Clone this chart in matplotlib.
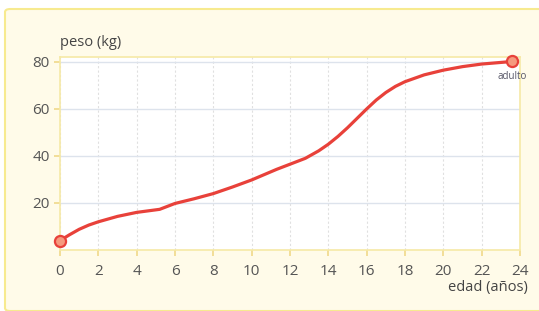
import matplotlib.pyplot as plt
from matplotlib.patches import FancyBboxPatch

# edad (años) y peso (kg)
edad = [0, 0.5, 1, 1.5, 2, 3, 4, 5.2, 6, 7, 8, 9, 10, 11.3, 12.8, 13.5, 14, 14.5, 15, 15.5, 16,
        16.5, 17, 17.5, 18, 19, 20, 21, 22, 23.6]
peso = [4, 6.5, 8.8, 10.6, 12, 14.3, 16, 17.3, 19.8, 21.8, 24, 26.8, 29.8, 34.3, 39, 42.2, 45,
        48.3, 52, 56, 60, 63.8, 67, 69.6, 71.6, 74.5, 76.5, 78, 79.1, 80.2]

x_ticks = list(range(0, 25, 2))
y_ticks = [20, 40, 60, 80]

plt.rcParams['font.family'] = ['Open Sans', 'DejaVu Sans']

fig = plt.figure(figsize=(5.39, 3.11), dpi=100)
fig.patch.set_facecolor('white')

# panel crema de fondo
panel = FancyBboxPatch((5 / 539, 0.0), 1.1, 1 - 9 / 311, transform=fig.transFigure,
                       boxstyle='round,pad=0,rounding_size=0.01',
                       facecolor='#fffbe9', edgecolor='#f7ea8f', linewidth=1.5, zorder=0)
fig.patches.append(panel)

ax = fig.add_axes([60 / 539, 1 - 250 / 311, 460 / 539, 193 / 311])
ax.set_zorder(2)
ax.set_facecolor('white')
ax.set_xlim(0, 24)
ax.set_ylim(0, 82.1)

for s in ax.spines.values():
    s.set_color('#f6e9a6')
    s.set_linewidth(1.2)

ax.set_xticks(x_ticks)
ax.set_yticks(y_ticks)
ax.tick_params(colors='#f0d98a', labelcolor='#555555', labelsize=11, length=4, width=1.2)
ax.tick_params(axis='x', pad=6)

ax.grid(axis='x', color='#e0e0e0', linestyle=(0, (2, 2)), linewidth=0.8)
ax.grid(axis='y', color='#dde3ec', linestyle='-', linewidth=1)
ax.set_axisbelow(True)

ax.plot(edad, peso, color='#e8413a', linewidth=2.3, solid_joinstyle='round',
        solid_capstyle='round', zorder=3)
ax.plot([edad[0], edad[-1]], [peso[0], peso[-1]], 'o', markersize=8,
        markerfacecolor='#f59a7e', markeredgecolor='#e8413a', markeredgewidth=1.6,
        zorder=4, clip_on=False)

ax.text(edad[-1], peso[-1] - 4, 'adulto', ha='center', va='top', fontsize=7, color='#555566')

fig.text(60 / 539, 1 - 43 / 311, 'peso (kg)', ha='left', va='center', fontsize=10.5, color='#444444', zorder=3)
fig.text(528 / 539, 1 - 287 / 311, 'edad (años)', ha='right', va='center', fontsize=10.5, color='#444444', zorder=3)

fig.savefig('out.png', dpi=100)
